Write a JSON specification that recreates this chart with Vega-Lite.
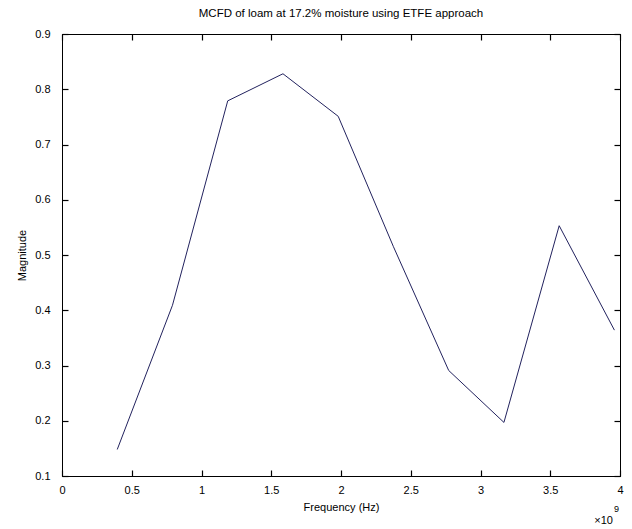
{
  "$schema": "https://vega.github.io/schema/vega-lite/v6.json",
  "width": 558,
  "height": 442,
  "autosize": "none",
  "padding": {"left": 62, "top": 34, "right": 12, "bottom": 53},
  "background": "white",
  "config": {
    "font": "Liberation Sans",
    "view": {"stroke": "black", "strokeWidth": 1},
    "axis": {
      "grid": false,
      "ticks": true,
      "domain": true,
      "domainColor": "black",
      "tickColor": "#000000",
      "tickOpacity": 1,
      "tickWidth": 1.2,
      "tickSize": -6,
      "labelColor": "black",
      "titleColor": "black",
      "labelFont": "Liberation Sans",
      "titleFont": "Liberation Sans",
      "labelFontSize": 11,
      "titleFontSize": 11,
      "titleFontWeight": "normal"
    }
  },
  "title": {
    "text": "MCFD of loam at 17.2% moisture using ETFE approach",
    "fontSize": 11.5,
    "fontWeight": "normal",
    "font": "Liberation Sans",
    "color": "black",
    "offset": 9
  },
  "data": {
    "values": [
      {"freq": 396000000, "mag": 0.148},
      {"freq": 792000000, "mag": 0.409},
      {"freq": 1188000000, "mag": 0.779},
      {"freq": 1584000000, "mag": 0.828},
      {"freq": 1980000000, "mag": 0.751},
      {"freq": 2376000000, "mag": 0.515},
      {"freq": 2772000000, "mag": 0.291},
      {"freq": 3168000000, "mag": 0.197},
      {"freq": 3564000000, "mag": 0.553},
      {"freq": 3960000000, "mag": 0.364}
    ]
  },
  "layer": [
    {
      "mark": {"type": "line", "color": "#22225e", "strokeWidth": 1},
      "encoding": {
        "x": {
          "field": "freq", "type": "quantitative",
          "scale": {"domain": [0, 4000000000], "nice": false, "zero": false},
          "axis": {
            "tickCount": 8,
            "ticks": true,
            "tickSize": -6,
            "labelExpr": "format(datum.value/1e9, '~g')",
            "title": "Frequency (Hz)",
            "labelPadding": 14,
            "titlePadding": 6,
            "labelFlush": false,
            "labelOverlap": false
          }
        },
        "y": {
          "field": "mag", "type": "quantitative",
          "scale": {"domain": [0.1, 0.9], "nice": false, "zero": false},
          "axis": {
            "tickCount": 8,
            "ticks": true,
            "tickSize": -6,
            "format": ".1f",
            "title": "Magnitude",
            "labelPadding": 18,
            "titlePadding": 7,
            "labelFlush": false,
            "labelOverlap": false
          }
        }
      }
    },
    {
      "data": {"values": [{}]},
      "mark": {"type": "rule", "opacity": 0},
      "encoding": {
        "x": {"datum": 0, "type": "quantitative", "axis": {"orient": "top", "labels": false, "title": null, "tickCount": 8, "ticks": true, "tickSize": -6}},
        "y": {"datum": 0.1, "type": "quantitative", "axis": {"orient": "right", "labels": false, "title": null, "tickCount": 8, "ticks": true, "tickSize": -6}}
      }
    },
    {
      "data": {"values": [{}]},
      "mark": {"type": "text", "text": "×10", "align": "right", "baseline": "middle", "fontSize": 11, "fontWeight": "normal", "font": "Liberation Sans", "color": "black", "dy": 45, "dx": -7, "clip": false},
      "encoding": {
        "x": {"datum": 4000000000, "type": "quantitative", "axis": null},
        "y": {"datum": 0.1, "type": "quantitative", "axis": null}
      }
    },
    {
      "data": {"values": [{}]},
      "mark": {"type": "text", "text": "9", "align": "left", "baseline": "middle", "fontSize": 9, "fontWeight": "normal", "font": "Liberation Sans", "color": "black", "dy": 33, "dx": -6, "clip": false},
      "encoding": {
        "x": {"datum": 4000000000, "type": "quantitative", "axis": null},
        "y": {"datum": 0.1, "type": "quantitative", "axis": null}
      }
    }
  ],
  "resolve": {"axis": {"x": "independent", "y": "independent"}}
}
